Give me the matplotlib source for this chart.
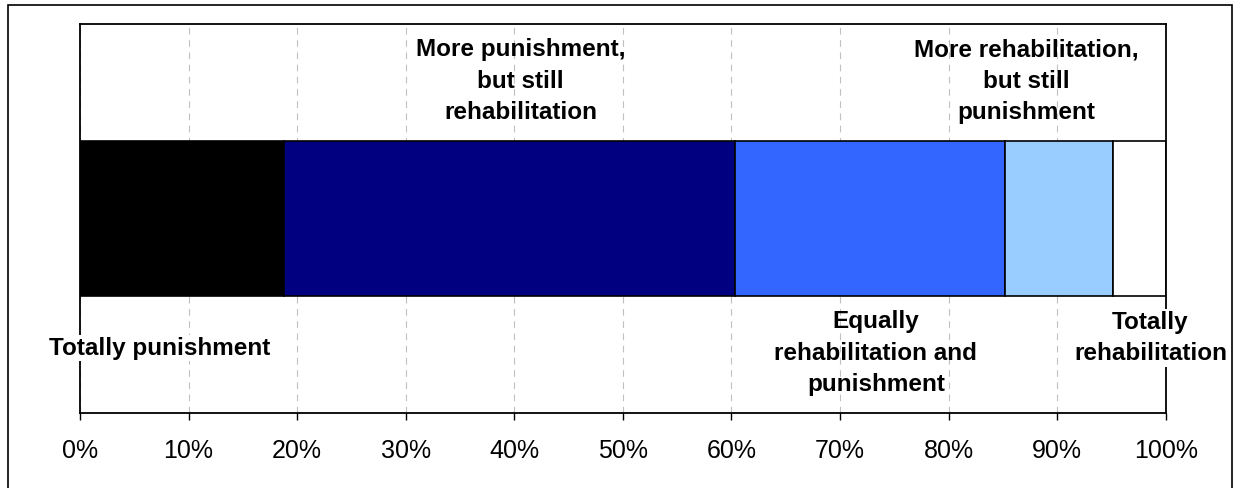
import matplotlib

matplotlib.use("Agg")
import matplotlib.pyplot as plt
from matplotlib.patches import Rectangle
from matplotlib.ticker import PercentFormatter

# shares of responses, left to right along the single stacked bar (%)
categories = [
    "Totally punishment",
    "More punishment,\nbut still\nrehabilitation",
    "Equally\nrehabilitation and\npunishment",
    "More rehabilitation,\nbut still\npunishment",
    "Totally\nrehabilitation",
]
shares = [18.8, 41.5, 24.9, 9.9, 4.9]
colors = ["#000000", "#000080", "#3366FF", "#99CCFF", "#FFFFFF"]

# label anchor points (x in %, y in axes units) and whether a white box hides lines behind
label_pos = [(7.3, 0.167), (40.6, 0.853), (73.3, 0.154), (87.2, 0.853), (98.6, 0.193)]
label_box = [True, False, False, False, True]

plt.rcParams["font.family"] = ["Liberation Sans", "DejaVu Sans"]

fig = plt.figure(figsize=(12.37, 4.88), dpi=100)
ax = fig.add_axes([80 / 1237, 1 - 413 / 488, 1085.7 / 1237, 389 / 488])

left = 0.0
for share, color in zip(shares, colors):
    ax.barh(0.5, share, left=left, height=0.4, color=color,
            edgecolor="black", linewidth=1.2, zorder=2)
    left += share

for text, (x, y), boxed in zip(categories, label_pos, label_box):
    kw = {}
    if boxed:
        kw["bbox"] = dict(facecolor="white", edgecolor="none", pad=1)
    ax.text(x, y, text, ha="center", va="center", fontsize=17.5,
            fontweight="bold", linespacing=1.47, zorder=4, clip_on=False, **kw)

ax.set_xlim(0, 100)
ax.set_ylim(0, 1)
ax.set_xticks(range(0, 101, 10))
ax.xaxis.set_major_formatter(PercentFormatter(decimals=0))
ax.set_yticks([])
ax.tick_params(axis="x", direction="out", length=5, width=1, pad=14, labelsize=18)
ax.grid(axis="x", color="#C0C0C0", linestyle=(0, (6, 5)), linewidth=0.8, zorder=0)
ax.set_axisbelow(True)
for spine in ax.spines.values():
    spine.set_linewidth(1.3)
    spine.set_color("black")

# outer chart border
fig.patches.append(Rectangle((8 / 1237, -0.01), 1224 / 1237, 1 - 5 / 488 + 0.01,
                             transform=fig.transFigure, fill=False,
                             edgecolor="black", linewidth=1.2))

fig.savefig("out.png", dpi=100)
